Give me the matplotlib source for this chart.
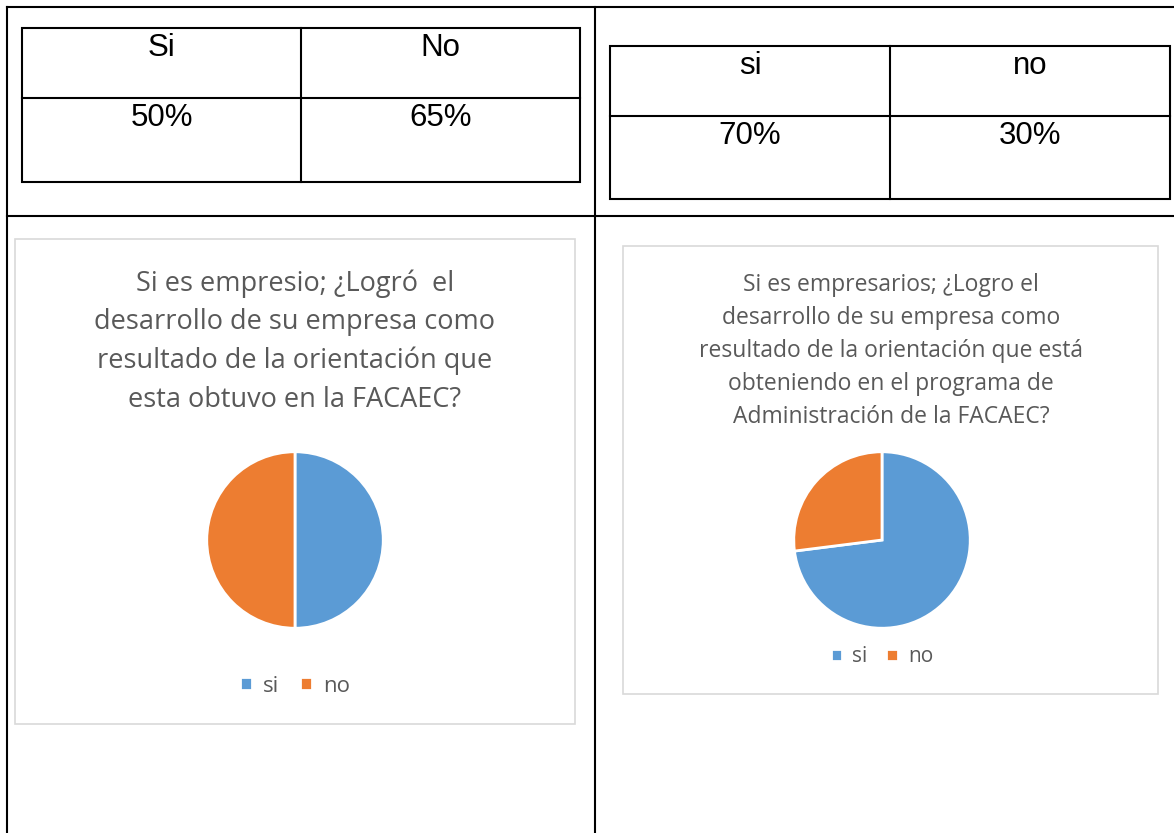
import matplotlib.pyplot as plt
from matplotlib.patches import Rectangle

# table data
t1_head = ["Si", "No"]
t1_vals = ["50%", "65%"]
t2_head = ["si", "no"]
t2_vals = ["70%", "30%"]

# pie data
labels = ["si", "no"]
pie1 = [50, 50]
pie2 = [73, 27]
colors = ["#5b9bd5", "#ed7d31"]

title1 = "Si es empresio; ¿Logró  el\ndesarrollo de su empresa como\nresultado de la orientación que\nesta obtuvo en la FACAEC?"
title2 = ("Si es empresarios; ¿Logro el\ndesarrollo de su empresa como\n"
          "resultado de la orientación que está\nobteniendo en el programa de\n"
          "Administración de la FACAEC?")

W, H = 1174, 833
fig = plt.figure(figsize=(W / 100, H / 100), dpi=100)
bg = fig.add_axes([0, 0, 1, 1])
bg.set_xlim(0, W)
bg.set_ylim(H, 0)
bg.axis("off")

# outer document table
lw = 1.5
bg.plot([7, W], [7, 7], color="black", lw=lw)
bg.plot([7, W], [216, 216], color="black", lw=lw)
bg.plot([7, 7], [7, H], color="black", lw=lw)
bg.plot([595, 595], [7, H], color="black", lw=lw)


def small_table(x0, x1, xm, y0, ym, y1, head, vals):
    bg.add_patch(Rectangle((x0, y0), x1 - x0, y1 - y0, fill=False, lw=lw, ec="black"))
    bg.plot([xm, xm], [y0, y1], color="black", lw=lw)
    bg.plot([x0, x1], [ym, ym], color="black", lw=lw)
    for i, (h, v) in enumerate(zip(head, vals)):
        cx = (x0 + xm) / 2 if i == 0 else (xm + x1) / 2
        bg.text(cx, y0 + 5, h, ha="center", va="top", fontsize=22.5,
                family="Liberation Sans")
        bg.text(cx, ym + 5, v, ha="center", va="top", fontsize=22.5,
                family="Liberation Sans")


small_table(22, 580, 301, 28, 98, 182, t1_head, t1_vals)
small_table(610, 1170, 890, 46, 116, 199, t2_head, t2_vals)

# chart boxes
bg.add_patch(Rectangle((15, 239), 560, 485, fill=False, lw=1.2, ec="#d9d9d9"))
bg.add_patch(Rectangle((623, 246), 535, 448, fill=False, lw=1.2, ec="#d9d9d9"))

bg.text(295, 269, title1, ha="center", va="top", fontsize=19.5, color="#595959",
        family="Open Sans", linespacing=1.5)
bg.text(891, 273, title2, ha="center", va="top", fontsize=16.5, color="#595959",
        family="Open Sans", linespacing=1.5)


def draw_pie(vals, cx, cy, r, ly, fs):
    ax = fig.add_axes([(cx - r) / W, 1 - (cy + r) / H, 2 * r / W, 2 * r / H])
    wedges, _ = ax.pie(vals, colors=colors, startangle=90, counterclock=False,
                       radius=1, wedgeprops=dict(edgecolor="white", linewidth=2))
    ax.set_xlim(-1.02, 1.02)
    ax.set_ylim(-1.02, 1.02)
    ax.set_aspect("equal")
    fig.legend(wedges, labels, loc="center", bbox_to_anchor=(cx / W, 1 - ly / H),
               ncol=2, frameon=False, handlelength=0.55, handleheight=0.55,
               handletextpad=0.5, columnspacing=0.9,
               prop=dict(family="Open Sans", size=fs), labelcolor="#595959")


draw_pie(pie1, 295, 540, 90, 686, 16)
draw_pie(pie2, 882, 540, 90, 657, 15)

fig.savefig("out.png", dpi=100)
